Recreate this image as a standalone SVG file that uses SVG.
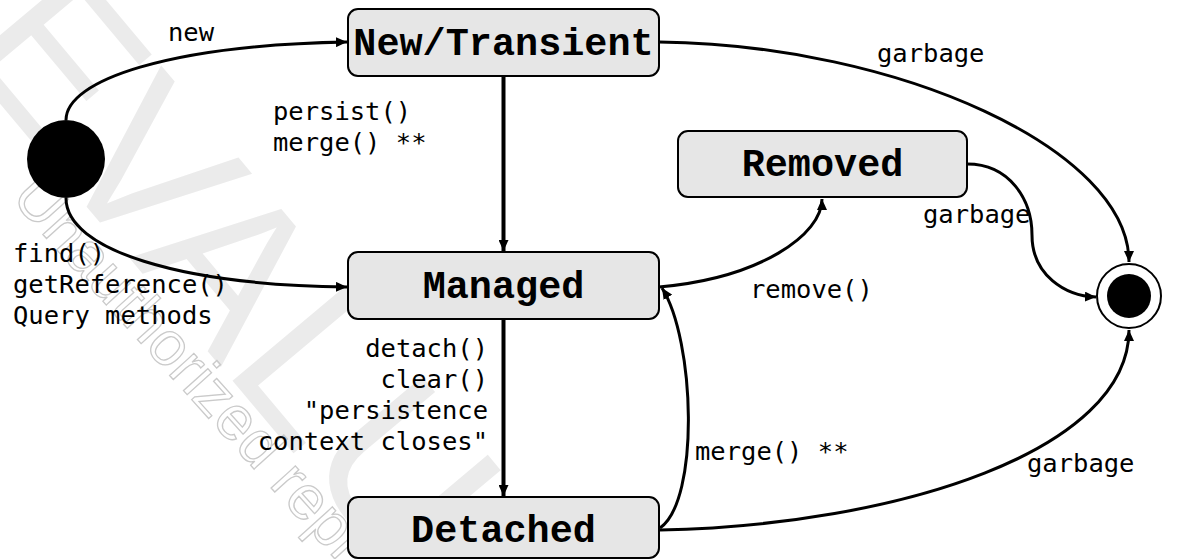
<svg xmlns="http://www.w3.org/2000/svg" width="1201" height="559" viewBox="0 0 1201 559">
<defs>
<marker id="arr" markerUnits="userSpaceOnUse" markerWidth="12" markerHeight="10" refX="11" refY="5" orient="auto">
<path d="M0,0 L11,5 L0,10 z" fill="#000"/>
</marker>
<style>
.box{fill:#e6e6e6;stroke:#000;stroke-width:2}
.nt{font-family:"Liberation Mono","Courier New",monospace;font-weight:bold;font-size:38.5px;text-anchor:middle;fill:#000}
.lb{font-family:"DejaVu Sans Mono",monospace;font-size:25.5px;fill:#000}
.c{fill:none;stroke:#000;stroke-width:3;marker-end:url(#arr)}
.v{fill:none;stroke:#000;stroke-width:4;marker-end:url(#arr)}
.wm{font-family:"Liberation Sans",sans-serif}
</style>
</defs>
<rect width="1201" height="559" fill="#fff"/>
<g id="watermark">
<text class="wm" x="0" y="0" font-size="215" fill="#ebebeb" transform="translate(-45,50) rotate(50)">EVALUATION</text>
<text class="wm" x="0" y="0" font-size="62" fill="none" stroke="#cacaca" stroke-width="1.3" transform="translate(10,198) rotate(48)">Unauthorized reproduction</text>
</g>
<g id="connectors">
<path class="c" d="M66,120 C66,80 170,45 347,42"/>
<path class="c" d="M66,198 C66,250 180,285 347,287"/>
<path class="v" d="M503.5,76 L503.5,251"/>
<path class="v" d="M503.5,319 L503.5,496"/>
<path class="c" d="M659,42 C900,45 1129,150 1129,262"/>
<path class="c" d="M967,164 C1010,164 1032,200 1032,235 C1032,275 1065,296 1096,297"/>
<path class="c" d="M659,287 C760,278 822,235 822,199"/>
<path class="c" d="M660,528 C700,500 695,340 662,288"/>
<path class="c" d="M660,530 C900,525 1129,450 1129,330"/>
<text class="lb" x="168" y="41">new</text>
<text class="lb" x="273" y="120">persist()</text>
<text class="lb" x="273" y="151">merge() **</text>
<text class="lb" x="13" y="262">find()</text>
<text class="lb" x="13" y="293">getReference()</text>
<text class="lb" x="13" y="324">Query methods</text>
<text class="lb" x="488" y="357" text-anchor="end">detach()</text>
<text class="lb" x="488" y="388" text-anchor="end">clear()</text>
<text class="lb" x="488" y="419" text-anchor="end">"persistence</text>
<text class="lb" x="488" y="450" text-anchor="end">context closes"</text>
<text class="lb" x="877" y="62">garbage</text>
<text class="lb" x="923" y="223">garbage</text>
<text class="lb" x="750" y="298">remove()</text>
<text class="lb" x="695" y="460">merge() **</text>
<text class="lb" x="1027" y="472">garbage</text>
</g>
<g id="start">
<circle cx="66" cy="159" r="39" fill="#000"/>
</g>
<g id="new-transient">
<rect class="box" x="348" y="9" width="311" height="67" rx="10"/>
<text class="nt" x="503.5" y="55">New/Transient</text>
</g>
<g id="managed">
<rect class="box" x="348" y="252" width="311" height="67" rx="10"/>
<text class="nt" x="503.5" y="298">Managed</text>
</g>
<g id="removed">
<rect class="box" x="678" y="131" width="289" height="66" rx="10"/>
<text class="nt" x="822.5" y="176">Removed</text>
</g>
<g id="detached">
<rect class="box" x="348" y="497" width="311" height="61" rx="10"/>
<text class="nt" x="503.5" y="542">Detached</text>
</g>
<g id="end">
<circle cx="1129" cy="296" r="32" fill="#fff" stroke="#000" stroke-width="2"/>
<circle cx="1129" cy="296" r="22" fill="#000"/>
</g>
</svg>
